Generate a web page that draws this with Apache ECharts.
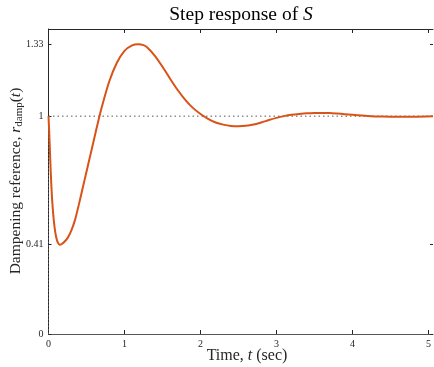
<!DOCTYPE html>
<html>
<head>
<meta charset="utf-8">
<script src="https://cdn.jsdelivr.net/npm/echarts@6/dist/echarts.min.js"></script>
<style>
html,body{margin:0;padding:0;background:#fff;}
#c{width:434px;height:367px;}
</style>
</head>
<body>
<div id="c"></div>
<script>
// Time samples (sec) and step response values
const timeVals = [0, 0.01, 0.02, 0.03, 0.04, 0.05, 0.07, 0.09, 0.11, 0.13, 0.15, 0.17, 0.20, 0.25, 0.30, 0.35, 0.40, 0.45, 0.50, 0.55, 0.60, 0.65, 0.70, 0.80, 0.90, 1.00, 1.10, 1.18, 1.25, 1.30, 1.40, 1.50, 1.60, 1.70, 1.80, 1.90, 2.00, 2.10, 2.20, 2.30, 2.40, 2.50, 2.60, 2.70, 2.80, 2.90, 3.00, 3.10, 3.20, 3.30, 3.40, 3.50, 3.60, 3.70, 3.80, 3.90, 4.00, 4.20, 4.40, 4.60, 4.80, 5.06];
const respVals = [1.0, 0.92, 0.83, 0.74, 0.665, 0.605, 0.52, 0.465, 0.432, 0.415, 0.41, 0.412, 0.42, 0.44, 0.475, 0.525, 0.595, 0.67, 0.745, 0.82, 0.895, 0.97, 1.04, 1.16, 1.245, 1.30, 1.325, 1.33, 1.326, 1.315, 1.277, 1.227, 1.172, 1.12, 1.075, 1.038, 1.01, 0.988, 0.971, 0.961, 0.955, 0.954, 0.956, 0.962, 0.971, 0.982, 0.992, 1.0, 1.006, 1.010, 1.013, 1.0145, 1.015, 1.0145, 1.012, 1.009, 1.006, 1.001, 0.998, 0.997, 0.997, 0.999];
const xTicks = [0, 1, 2, 3, 4, 5];
const yTicks = [0, 0.41, 1, 1.33];
const refLevel = 1;
const xRange = [0, 5.06];
const yRange = [0, 1.4];

const serif = '"Liberation Serif", "DejaVu Serif", serif';
const axisColor = '#262626';
const curve = timeVals.map((t, i) => [t, respVals[i]]);

const chart = echarts.init(document.getElementById('c'), null, {renderer: 'canvas'});
chart.setOption({
  animation: false,
  backgroundColor: '#fff',
  grid: {left: 48.5, right: 1, top: 29, bottom: 33, containLabel: false},
  xAxis: [{
    type: 'value', min: xRange[0], max: xRange[1], position: 'bottom',
    axisLine: {show: true, onZero: false, lineStyle: {color: '#555', width: 1.2}},
    axisTick: {show: true, inside: true, length: 4, customValues: xTicks, lineStyle: {color: axisColor}},
    axisLabel: {customValues: xTicks, fontFamily: serif, fontSize: 10, color: axisColor, margin: 5},
    splitLine: {show: false}
  }, {
    type: 'value', min: xRange[0], max: xRange[1], position: 'top',
    axisLine: {show: true, onZero: false, lineStyle: {color: axisColor, width: 1}},
    axisTick: {show: true, inside: true, length: 4, customValues: xTicks, lineStyle: {color: axisColor}},
    axisLabel: {show: false},
    splitLine: {show: false}
  }],
  yAxis: [{
    type: 'value', min: yRange[0], max: yRange[1], position: 'left',
    axisLine: {show: true, onZero: false, lineStyle: {color: axisColor, width: 1}},
    axisTick: {show: true, inside: true, length: 3, customValues: yTicks, lineStyle: {color: axisColor}},
    axisLabel: {customValues: yTicks, fontFamily: serif, fontSize: 10, color: axisColor, margin: 5},
    splitLine: {show: false}
  }, {
    type: 'value', min: yRange[0], max: yRange[1], position: 'right',
    axisLine: {show: false, onZero: false},
    axisTick: {show: true, inside: true, length: 3, customValues: yTicks, lineStyle: {color: axisColor}},
    axisLabel: {show: false},
    splitLine: {show: false}
  }],
  series: [{
    type: 'line', data: [[xRange[0], refLevel], [xRange[1], refLevel]],
    showSymbol: false, silent: true,
    lineStyle: {color: '#555', width: 1, type: [1.5, 3]}, z: 1
  }, {
    type: 'line', data: [[0, 0], [0, refLevel]],
    showSymbol: false, silent: true,
    lineStyle: {color: '#555', width: 1, type: [1.5, 2]}, z: 1
  }, {
    type: 'line', data: curve, smooth: 0.25,
    showSymbol: false, silent: true,
    lineStyle: {color: '#D95319', width: 2}, z: 3
  }],
  graphic: [{
    type: 'text', x: 241, y: 15,
    style: {
      text: '{a|Step response of }{b|S}',
      textAlign: 'center', textVerticalAlign: 'middle',
      rich: {
        a: {fontFamily: serif, fontSize: 19.5, fill: '#000'},
        b: {fontFamily: serif, fontSize: 19.5, fontStyle: 'italic', fill: '#000'}
      }
    }
  }, {
    type: 'text', x: 247, y: 356,
    style: {
      text: '{a|Time, }{b|t}{a| (sec)}',
      textAlign: 'center', textVerticalAlign: 'middle',
      rich: {
        a: {fontFamily: serif, fontSize: 16, fill: '#262626'},
        b: {fontFamily: serif, fontSize: 16, fontStyle: 'italic', fill: '#262626'}
      }
    }
  }, {
    type: 'text', x: 16, y: 181, rotation: Math.PI / 2,
    style: {
      text: '{a|Dampening reference, }{b|r}{s|damp}{a|(}{b|t}{a|)}',
      textAlign: 'center', textVerticalAlign: 'middle',
      rich: {
        a: {fontFamily: serif, fontSize: 15.5, fill: '#262626'},
        b: {fontFamily: serif, fontSize: 15.5, fontStyle: 'italic', fill: '#262626'},
        s: {fontFamily: serif, fontSize: 11, fill: '#262626', verticalAlign: 'bottom', padding: [6, 0, 0, 0]}
      }
    }
  }]
});
</script>
</body>
</html>
